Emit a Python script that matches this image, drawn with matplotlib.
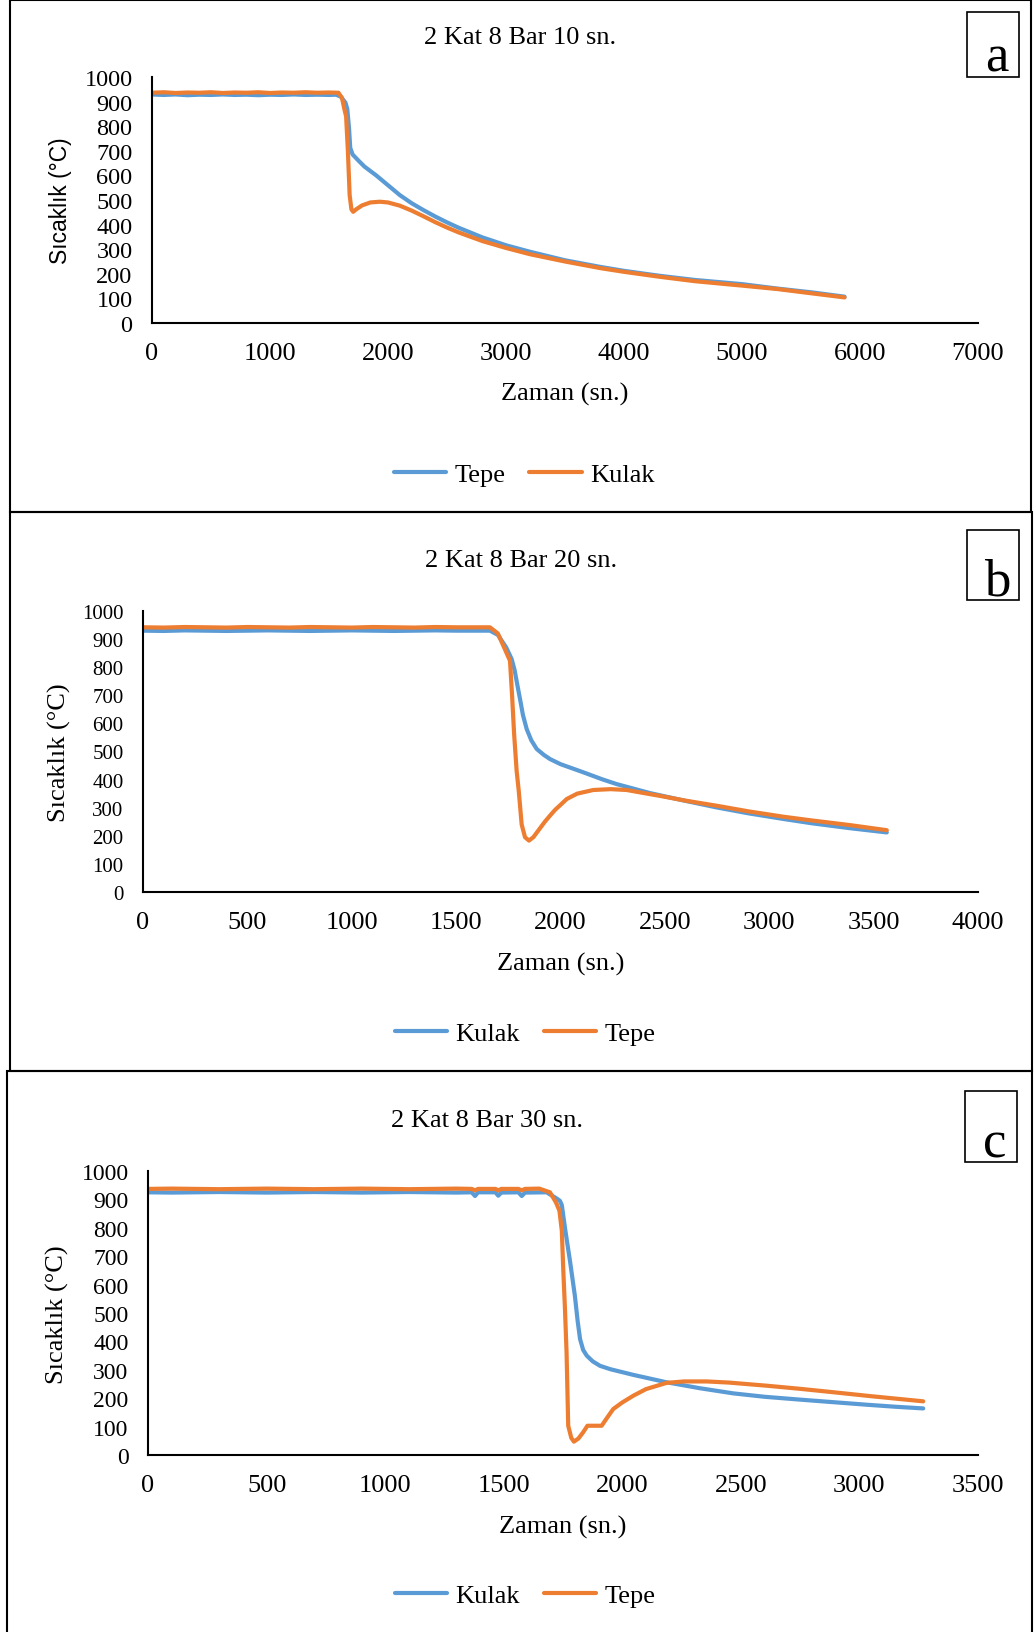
import matplotlib
matplotlib.use("Agg")
import matplotlib.pyplot as plt
from matplotlib.patches import Rectangle

# ---------------- data ----------------
# Panel a: 2 Kat 8 Bar 10 sn.
a_tepe_t = [0, 100, 200, 300, 400, 500, 600, 700, 800, 900, 1000, 1100, 1200, 1300, 1400, 1500,
            1560, 1600, 1640, 1655, 1670, 1680, 1700, 1750, 1800, 1900, 2000, 2100, 2200, 2300, 2400,
            2500, 2600, 2800, 3000, 3200, 3500, 3800, 4000, 4300, 4600, 5000, 5300, 5600, 5869]
a_tepe_v = [929, 927, 929, 926, 928, 927, 929, 927, 928, 926, 928, 927, 929, 927, 928, 927,
            928, 920, 895, 870, 790, 712, 685, 660, 636, 600, 560, 520, 487, 459, 433,
            409, 387, 348, 316, 290, 255, 228, 212, 192, 175, 158, 140, 124, 107]
a_kulak_t = [0, 100, 200, 300, 400, 500, 600, 700, 800, 900, 1000, 1100, 1200, 1300, 1400, 1500,
             1580, 1610, 1630, 1645, 1660, 1675, 1690, 1705, 1730, 1780, 1850, 1930, 2000, 2100,
             2200, 2300, 2400, 2500, 2600, 2800, 3000, 3200, 3500, 3800, 4000, 4300, 4600, 5000,
             5300, 5600, 5869]
a_kulak_v = [936, 938, 935, 937, 936, 938, 935, 937, 936, 938, 935, 937, 936, 938, 936, 937,
             936, 915, 870, 840, 700, 520, 462, 452, 462, 478, 490, 493, 490, 477,
             457, 434, 410, 388, 368, 333, 305, 280, 250, 223, 208, 188, 170, 152,
             138, 120, 104]

# Panel b: 2 Kat 8 Bar 20 sn.
b_kulak_t = [0, 100, 200, 300, 400, 500, 600, 700, 800, 900, 1000, 1100, 1200, 1300, 1400, 1500,
             1600, 1662, 1700, 1740, 1766, 1780, 1795, 1806, 1820, 1838, 1860, 1886, 1920, 1950,
             2000, 2109, 2200, 2269, 2429, 2600, 2748, 2900, 3067, 3200, 3387, 3563]
b_kulak_v = [930, 929, 931, 930, 929, 930, 931, 930, 929, 930, 931, 930, 929, 930, 931, 930,
             930, 930, 915, 870, 829, 790, 730, 687, 630, 580, 540, 509, 488, 473,
             455, 426, 401, 384, 352, 324, 301, 280, 260, 245, 227, 212]
b_tepe_t = [0, 100, 200, 300, 400, 500, 600, 700, 800, 900, 1000, 1100, 1200, 1300, 1400, 1500,
            1600, 1662, 1700, 1730, 1758, 1768, 1778, 1790, 1800, 1814, 1830, 1849, 1870, 1900,
            1925, 1950, 1975, 2000, 2030, 2080, 2157, 2240, 2317, 2400, 2477, 2600, 2748, 2900,
            3067, 3200, 3387, 3563]
b_tepe_v = [942, 941, 943, 942, 941, 943, 942, 941, 943, 942, 941, 943, 942, 941, 943, 942,
            942, 942, 920, 870, 823, 700, 560, 430, 360, 240, 195, 183, 195, 225,
            250, 272, 293, 310, 331, 350, 363, 366, 363, 352, 342, 325, 307, 287,
            268, 255, 238, 220]

# Panel c: 2 Kat 8 Bar 30 sn.
c_kulak_t = [0, 100, 200, 300, 400, 500, 600, 700, 800, 900, 1000, 1100, 1200, 1300, 1365, 1379,
             1392, 1465, 1477, 1490, 1562, 1576, 1590, 1681, 1700, 1720, 1737, 1745, 1760, 1780,
             1800, 1812, 1822, 1835, 1850, 1875, 1906, 1950, 2047, 2187, 2328, 2468, 2600, 2749,
             2890, 3031, 3150, 3269]
c_kulak_v = [925, 924, 925, 926, 925, 924, 925, 926, 925, 924, 925, 926, 925, 924, 925, 912,
             925, 925, 913, 924, 925, 912, 924, 925, 915, 905, 895, 880, 790, 680,
             561, 470, 408, 370, 350, 330, 314, 302, 282, 256, 235, 217, 205, 195,
             186, 177, 170, 164]
c_tepe_t = [0, 100, 200, 300, 400, 500, 600, 700, 800, 900, 1000, 1100, 1200, 1300, 1365, 1379,
            1392, 1465, 1477, 1490, 1562, 1576, 1590, 1650, 1695, 1720, 1735, 1745, 1751, 1758,
            1765, 1772, 1785, 1796, 1815, 1835, 1853, 1913, 1935, 1962, 2000, 2047, 2100, 2187,
            2260, 2356, 2450, 2609, 2750, 2890, 3050, 3269]
c_tepe_v = [937, 938, 937, 936, 937, 938, 937, 936, 937, 938, 937, 936, 937, 938, 937, 932,
            937, 937, 932, 937, 937, 932, 937, 938, 925, 890, 860, 790, 655, 520,
            362, 103, 60, 47, 58, 80, 103, 103, 130, 162, 185, 209, 232, 254,
            259, 259, 255, 244, 233, 221, 207, 189]

titles = ["2 Kat 8 Bar 10 sn.", "2 Kat 8 Bar 20 sn.", "2 Kat 8 Bar 30 sn."]
panel_letters = ["a", "b", "c"]
xlabel = "Zaman (sn.)"
ylabel = "Sıcaklık (°C)"

BLUE = "#5B9BD5"
ORANGE = "#ED7D31"

W, H = 1035, 1633
fig = plt.figure(figsize=(W / 100, H / 100), dpi=100)
plt.rcParams['font.family'] = ['Liberation Serif', 'DejaVu Serif']


def fx(x):
    return x / W


def fy(y):
    return 1 - y / H


def add_rect(x0, y0, x1, y1, lw):
    fig.patches.append(Rectangle((fx(x0), fy(y1)), fx(x1) - fx(x0), fy(y0) - fy(y1),
                                 transform=fig.transFigure, fill=False,
                                 edgecolor="black", linewidth=lw))


# outer panel frames
add_rect(10, 1, 1031, 513, 1.5)
add_rect(10, 513, 1032, 1072, 1.5)
add_rect(7, 1072, 1032, 1640, 1.5)

panels = [
    dict(box=(152, 78, 978, 324), xmax=7000, xstep=1000,
         series=[(a_tepe_t, a_tepe_v, BLUE, "Tepe"), (a_kulak_t, a_kulak_v, ORANGE, "Kulak")],
         title_xy=(520, 38), xlabel_y=394, ylabel_xy=(60, 201), ytick_fs=17.5,
         ylabel_family=['Liberation Sans', 'DejaVu Sans'], ylabel_fs=16.5,
         legend_xy=(524, 475), letter_box=(967, 13, 1019, 78)),
    dict(box=(143, 612, 978, 893), xmax=4000, xstep=500,
         series=[(b_kulak_t, b_kulak_v, BLUE, "Kulak"), (b_tepe_t, b_tepe_v, ORANGE, "Tepe")],
         title_xy=(521, 561), xlabel_y=964, ylabel_xy=(59, 753), ytick_fs=15,
         ylabel_family=['Liberation Serif', 'DejaVu Serif'], ylabel_fs=19,
         legend_xy=(525, 1034), letter_box=(967, 531, 1019, 601)),
    dict(box=(148, 1172, 978, 1456), xmax=3500, xstep=500,
         series=[(c_kulak_t, c_kulak_v, BLUE, "Kulak"), (c_tepe_t, c_tepe_v, ORANGE, "Tepe")],
         title_xy=(487, 1121), xlabel_y=1527, ylabel_xy=(57, 1315), ytick_fs=17,
         ylabel_family=['Liberation Serif', 'DejaVu Serif'], ylabel_fs=19,
         legend_xy=(525, 1596), letter_box=(965, 1092, 1017, 1163)),
]

for i, p in enumerate(panels):
    l, t, r, b = p["box"]
    ax = fig.add_axes([fx(l), fy(b), fx(r) - fx(l), fy(t) - fy(b)])
    handles = []
    for tt, vv, col, name in p["series"]:
        h, = ax.plot(tt, vv, color=col, lw=3.0, label=name, solid_capstyle="round",
                     solid_joinstyle="round")
        handles.append(h)
    ax.set_xlim(0, p["xmax"])
    ax.set_ylim(0, 1000)
    ax.set_xticks(range(0, p["xmax"] + 1, p["xstep"]))
    ax.set_yticks(range(0, 1001, 100))
    for s in ["top", "right"]:
        ax.spines[s].set_visible(False)
    for s in ["left", "bottom"]:
        ax.spines[s].set_linewidth(1.5)
        ax.spines[s].set_color("black")
    ax.tick_params(axis="x", length=0, pad=13.5, labelsize=19)
    ax.tick_params(axis="y", length=0, pad=14, labelsize=p["ytick_fs"])
    ax.patch.set_alpha(0)

    fig.text(fx(p["title_xy"][0]), fy(p["title_xy"][1]), titles[i], ha="center", va="center",
             fontsize=19)
    fig.text(fx((l + r) / 2), fy(p["xlabel_y"]), xlabel, ha="center", va="center", fontsize=19)
    fig.text(fx(p["ylabel_xy"][0]), fy(p["ylabel_xy"][1]), ylabel, ha="center", va="center",
             rotation=90, fontsize=p["ylabel_fs"], family=p["ylabel_family"])

    fig.legend(handles=handles, loc="center", bbox_to_anchor=(fx(p["legend_xy"][0]), fy(p["legend_xy"][1])),
               ncol=2, frameon=False, fontsize=19, handlelength=2.0, handletextpad=0.3,
               columnspacing=0.9, borderpad=0)

    bx0, by0, bx1, by1 = p["letter_box"]
    add_rect(bx0, by0, bx1, by1, 1.2)
    fig.text(fx((bx0 + bx1) / 2 + 4), fy(by1 - 6), panel_letters[i], ha="center", va="baseline",
             fontsize=38)

fig.savefig("out.png", dpi=100)
